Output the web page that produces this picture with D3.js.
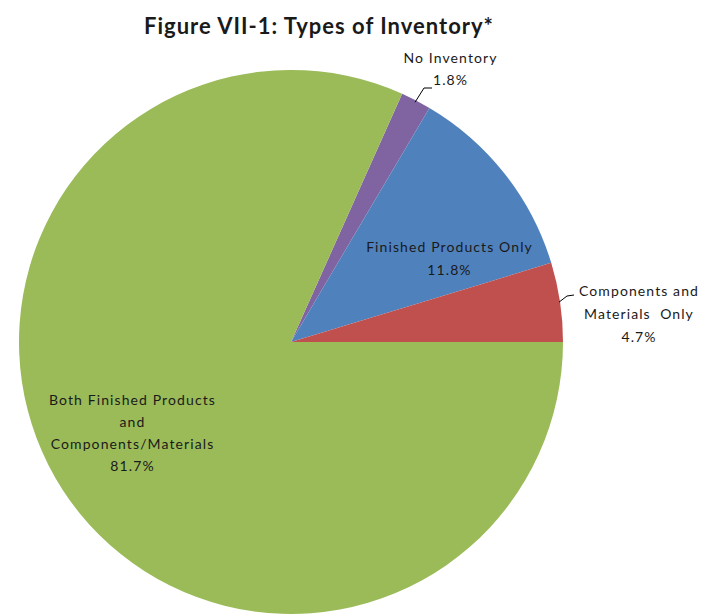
<!DOCTYPE html>
<html>
<head>
<meta charset="utf-8">
<script src="https://cdn.jsdelivr.net/npm/d3@7"></script>
<style>
  html, body { margin: 0; padding: 0; background: #fff; }
  svg { display: block; }
</style>
</head>
<body>
<svg id="chart" width="705" height="614"></svg>
<script>
const title = "Figure VII-1: Types of Inventory*";
const categories = ["No Inventory", "Finished Products Only", "Components and Materials Only", "Both Finished Products and Components/Materials"];
const values = [1.8, 11.8, 4.7, 81.7];
const labelLines = [
  ["No Inventory", "1.8%"],
  ["Finished Products Only", "11.8%"],
  ["Components and", "Materials  Only", "4.7%"],
  ["Both Finished Products", "and", "Components/Materials", "81.7%"]
];
const colors = ["#8064A2", "#4F81BD", "#C0504D", "#9BBB59"];

const svg = d3.select("#chart");
const cx = 291, cy = 342, r = 272;
const font = "Lato, 'Open Sans', sans-serif";

svg.append("text")
  .attr("x", 319).attr("y", 34)
  .attr("text-anchor", "middle")
  .attr("font-family", font)
  .attr("font-weight", "bold")
  .attr("font-size", 22)
  .attr("letter-spacing", 1)
  .attr("fill", "#1a1a1a")
  .text(title);

const total = d3.sum(values);
const before = values[0] + values[1] + values[2];
const start = Math.PI / 2 - (before / total) * 2 * Math.PI;
const pie = d3.pie().sort(null).value(d => d).startAngle(start).endAngle(start + 2 * Math.PI);
const arcs = pie(values);
const arc = d3.arc().innerRadius(0).outerRadius(r);

const g = svg.append("g").attr("transform", `translate(${cx},${cy})`);
g.selectAll("path").data(arcs).enter().append("path")
  .attr("d", arc)
  .attr("fill", (d, i) => colors[i]);

// label positions (relative to center)
const labelPos = [
  {x: 159.5, y: -279, lh: 22},
  {x: 158.5, y: -90, lh: 23},
  {x: 348, y: -46, lh: 23},
  {x: -158.5, y: 63, lh: 22}
];
labelLines.forEach((lines, i) => {
  const t = g.append("text")
    .attr("text-anchor", "middle")
    .attr("font-family", font)
    .attr("font-size", 14)
    .attr("letter-spacing", 1.1)
    .attr("fill", "#1a1a1a");
  lines.forEach((ln, j) => {
    t.append("tspan").attr("x", labelPos[i].x).attr("y", labelPos[i].y + j * labelPos[i].lh)
      .attr("xml:space", "preserve").text(ln);
  });
});

// leader lines
const angMid = (a) => (a.startAngle + a.endAngle) / 2;
function edgePt(a, rr) {
  const m = angMid(a);
  return [Math.sin(m) * rr, -Math.cos(m) * rr];
}
const p0 = edgePt(arcs[0], r - 2);
g.append("path")
  .attr("d", `M${p0[0]},${p0[1]} L${133},${-254} L${141},${-254}`)
  .attr("fill", "none").attr("stroke", "#000").attr("stroke-width", 1);
const p2 = edgePt(arcs[2], r - 1);
g.append("path")
  .attr("d", `M${p2[0]},${p2[1]} L${276},${-46} L${283},${-47}`)
  .attr("fill", "none").attr("stroke", "#000").attr("stroke-width", 1);
</script>
</body>
</html>
